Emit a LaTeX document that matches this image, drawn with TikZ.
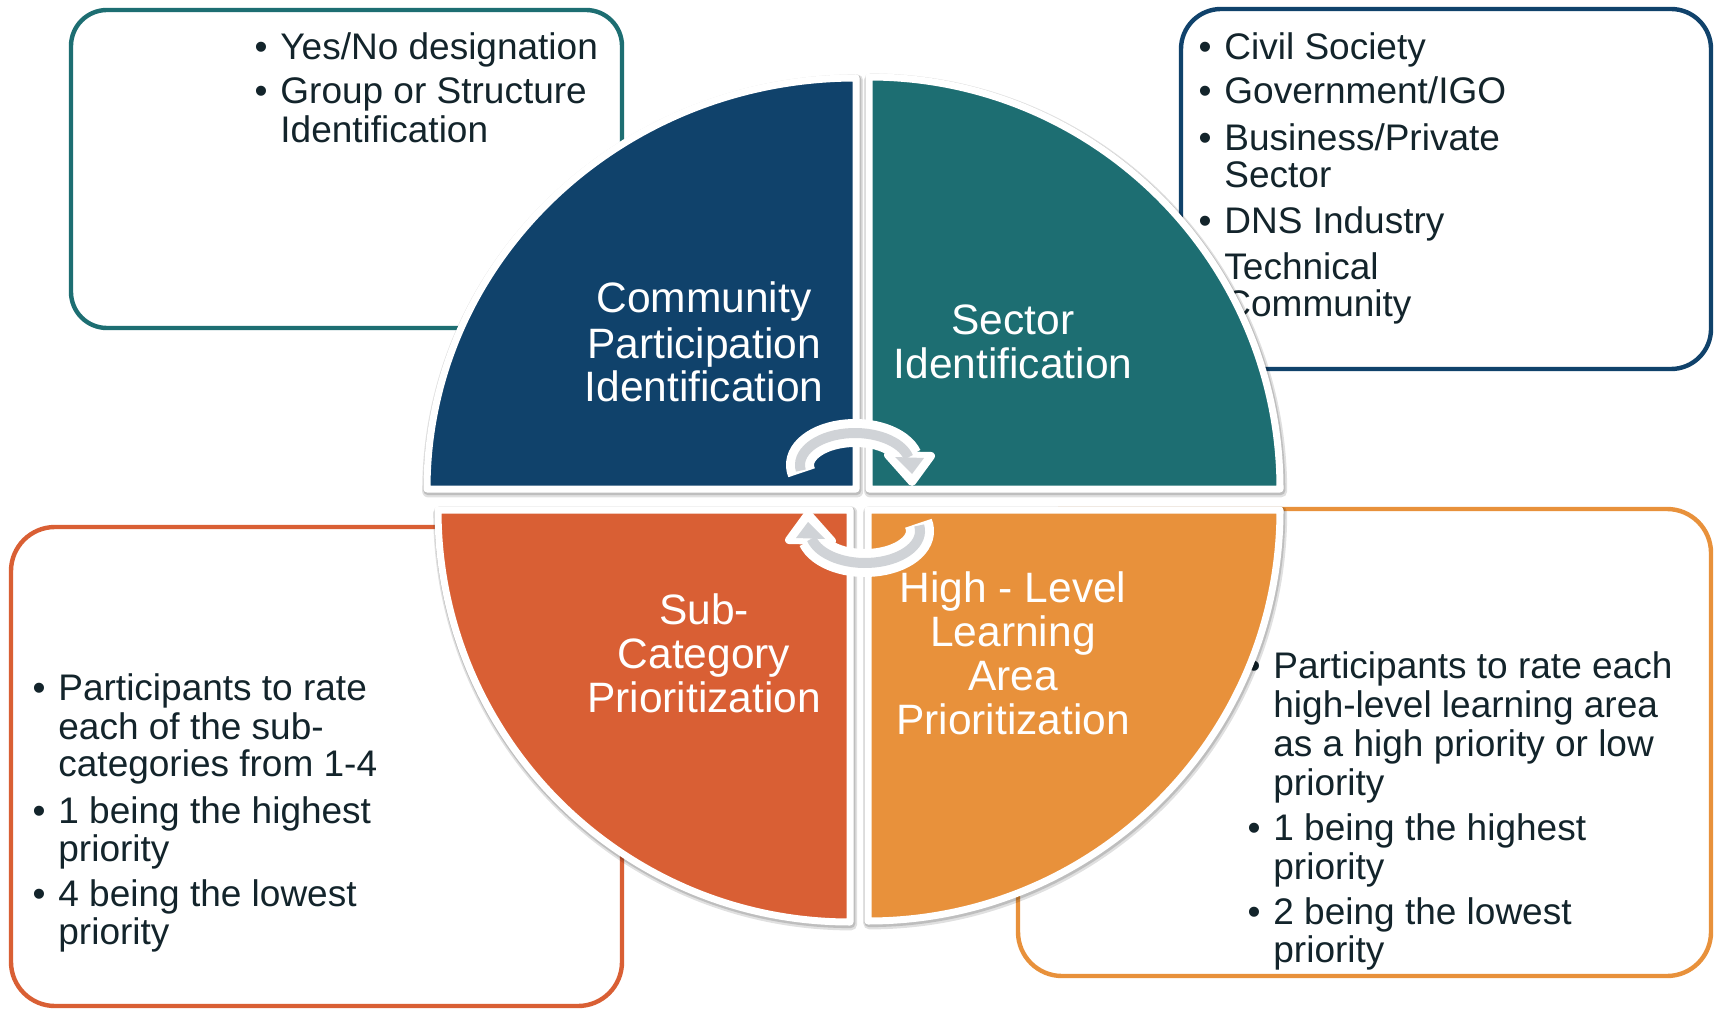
\documentclass[tikz,border=0pt]{standalone}
\usepackage{fontspec}
\setmainfont{Liberation Sans}
\definecolor{qblue}{HTML}{10426B}
\definecolor{qteal}{HTML}{1D6E72}
\definecolor{qred}{HTML}{D95F34}
\definecolor{qorange}{HTML}{E8913B}
\definecolor{txtc}{HTML}{13242B}
\definecolor{arrgray}{HTML}{D0D3D7}
\begin{document}
\begin{tikzpicture}[x=0.5pt,y=-0.5pt,
  box/.style={line width=2.2pt, fill=white},
  itm/.style={anchor=base west, inner sep=0pt, text=txtc, font=\fontsize{18.5}{22}\selectfont},
  bul/.style={anchor=base, inner sep=0pt, text=txtc, font=\fontsize{18.5}{22}\selectfont},
  quad/.style={draw=white, line width=3.5pt, line join=round,
     preaction={draw=black, draw opacity=0.12, line width=6pt, line join=round, transform canvas={xshift=0.6pt, yshift=-1.2pt}},
     preaction={draw=black, draw opacity=0.15, line width=4.5pt, line join=round, transform canvas={xshift=0.4pt, yshift=-0.8pt}}},
  qlab/.style={anchor=base, inner sep=0pt, text=white, font=\fontsize{21.25}{25}\selectfont},
]
\useasboundingbox[fill=white] (0,0) rectangle (1716,1010);

% ---- outer boxes ----
\draw[box, draw=qteal, rounded corners=18pt] (71,10) rectangle (622,328);
\draw[box, draw=qblue, rounded corners=20pt] (1181,9) rectangle (1711,369);
\draw[box, draw=qred, rounded corners=22pt] (11,527) rectangle (622,1006);
\draw[box, draw=qorange, rounded corners=22pt] (1018,509) rectangle (1711,976);

% ---- TL box text ----
\node[bul] (tlb1) at (261,60) {•};
\node[itm] (tl1) at (280,60) {Yes/No designation};
\node[bul] (tlb2) at (261,104) {•};
\node[itm] (tl2) at (280,104) {Group or Structure};
\node[itm] (tl3) at (280,143) {Identification};

% ---- TR box text ----
\node[bul] (trb1) at (1205,60) {•};
\node[itm] (tr1) at (1224,60) {Civil Society};
\node[bul] (trb2) at (1205,104) {•};
\node[itm] (tr2) at (1224,104) {Government/IGO};
\node[bul] (trb3) at (1205,151) {•};
\node[itm] (tr3) at (1224,151) {Business/Private};
\node[itm] (tr4) at (1224,188) {Sector};
\node[bul] (trb5) at (1205,234) {•};
\node[itm] (tr5) at (1224,234) {DNS Industry};
\node[bul] (trb6) at (1205,280) {•};
\node[itm] (tr6) at (1224,280) {Technical};
\node[itm] (tr7) at (1224,317) {Community};

% ---- BL box text ----
\node[bul] (blb1) at (39,700) {•};
\node[itm] (bl1) at (58,700) {Participants to rate};
\node[itm] (bl2) at (58,739) {each of the sub-};
\node[itm] (bl3) at (58,776) {categories from 1-4};
\node[bul] (blb4) at (39,823) {•};
\node[itm] (bl4) at (58,823) {1 being the highest};
\node[itm] (bl5) at (58,861) {priority};
\node[bul] (blb6) at (39,906) {•};
\node[itm] (bl6) at (58,906) {4 being the lowest};
\node[itm] (bl7) at (58,944) {priority};

% ---- BR box text ----
\node[bul] (brb1) at (1254,678) {•};
\node[itm] (br1) at (1273,678) {Participants to rate each};
\node[itm] (br2) at (1273,717) {high-level learning area};
\node[itm] (br3) at (1273,756) {as a high priority or low};
\node[itm] (br4) at (1273,795) {priority};
\node[bul] (brb5) at (1254,840) {•};
\node[itm] (br5) at (1273,840) {1 being the highest};
\node[itm] (br6) at (1273,879) {priority};
\node[bul] (brb7) at (1254,924) {•};
\node[itm] (br7) at (1273,924) {2 being the lowest};
\node[itm] (br8) at (1273,962) {priority};

% ---- quadrants ----
\draw[quad, fill=qblue] (856,489) -- (427,489) arc[start angle=180, end angle=270, x radius=429, y radius=411] -- cycle;
\draw[quad, fill=qteal] (869,489) -- (869,77) arc[start angle=270, end angle=360, x radius=411, y radius=412] -- cycle;
\draw[quad, fill=qred] (850,510) -- (850,922) arc[start angle=90, end angle=180, x radius=412, y radius=412] -- cycle;
\draw[quad, fill=qorange] (868,510) -- (1280,510) arc[start angle=0, end angle=90, x radius=412, y radius=411] -- cycle;

% ---- quadrant labels ----
\node[qlab] (q1a) at (704,313) {Community};
\node[qlab] (q1b) at (704,358) {Participation};
\node[qlab] (q1c) at (704,401) {Identification};
\node[qlab] (q2a) at (1013,335) {Sector};
\node[qlab] (q2b) at (1013,379) {Identification};
\node[qlab] (q3a) at (704,624) {Sub-};
\node[qlab] (q3b) at (704,668) {Category};
\node[qlab] (q3c) at (704,712) {Prioritization};
\node[qlab] (q4a) at (1013,602) {High - Level};
\node[qlab] (q4b) at (1013,646) {Learning};
\node[qlab] (q4c) at (1013,690) {Area};
\node[qlab] (q4d) at (1013,734) {Prioritization};

% ---- circular arrows: white outline layer ----
\draw[white, line width=14pt] (855,465) ++(166:55 and 32) arc[start angle=166, end angle=345, x radius=55, y radius=32];
\draw[white, line width=4pt, line join=round, fill=white] (888,455) -- (931,456) -- (912,482) -- cycle;
\draw[white, line width=14pt] (865,531) ++(-14:55 and 32) arc[start angle=-14, end angle=165, x radius=55, y radius=32];
\draw[white, line width=4pt, line join=round, fill=white] (832,541) -- (789,540) -- (808,514) -- cycle;
% ---- gray layer ----
\draw[arrgray, line width=5pt] (855,465) ++(170:55 and 32) arc[start angle=170, end angle=346, x radius=55, y radius=32];
\fill[arrgray] (895,457) -- (924,458) -- (912,474) -- cycle;
\draw[arrgray, line width=5pt] (865,531) ++(-10:55 and 32) arc[start angle=-10, end angle=166, x radius=55, y radius=32];
\fill[arrgray] (825,539) -- (796,538) -- (808,522) -- cycle;
\end{tikzpicture}
\end{document}
